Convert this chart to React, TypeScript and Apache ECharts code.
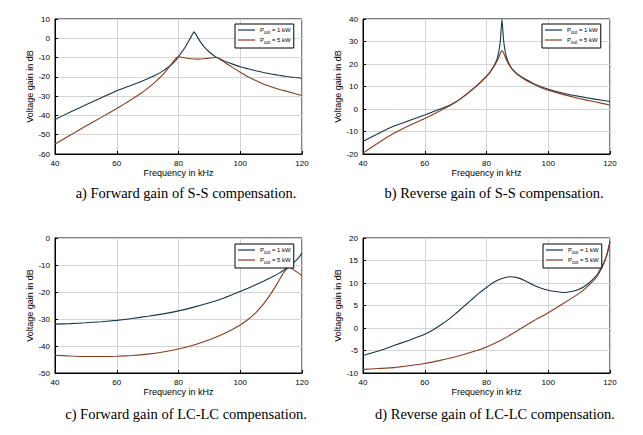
import React, { useEffect, useRef } from "react";
import * as echarts from "echarts";

// ---- data (frequency in kHz, gain in dB) ----
const xA = [40, 45, 50, 55, 60, 65, 70, 72.5, 75, 77.5, 79, 80, 81, 82, 83, 84, 84.5, 85, 85.5, 86, 87, 88, 89, 90, 91, 92, 93, 95, 97.5, 100, 102.5, 105, 107.5, 110, 112.5, 115, 117.5, 120];
const a1kW = [-42.1, -38.2, -34.5, -30.8, -27.2, -24.2, -21, -19.2, -16.9, -14, -11.6, -9.5, -7.3, -5, -2.3, 0.6, 2, 3.3, 2.4, 1, -1.6, -3.8, -5.6, -7.1, -8.4, -9.5, -10.3, -11.9, -13.4, -14.8, -15.8, -16.8, -17.7, -18.5, -19.2, -19.8, -20.3, -20.7];
const xA5 = [40, 45, 50, 55, 60, 62.5, 65, 67.5, 70, 72.5, 75, 76, 77, 78, 79, 79.5, 80, 81, 82, 84, 86, 88, 90, 91, 92, 92.5, 93, 94, 95, 97.5, 100, 102.5, 105, 107.5, 110, 112.5, 115, 117.5, 120];
const a5kW = [-54.8, -50.2, -45.5, -41, -36.4, -34, -31.5, -28.9, -26, -22.6, -18.7, -16.9, -14.9, -12.7, -10.6, -9.8, -9.6, -9.8, -10.1, -10.6, -10.8, -10.6, -10.3, -10.1, -10, -10.1, -10.5, -11.5, -12.6, -15.1, -17.6, -19.9, -21.9, -23.7, -25.1, -26.4, -27.5, -28.6, -29.7];

const xB = [40, 45, 50, 55, 60, 65, 67.5, 70, 72.5, 75, 77.5, 80, 81, 82, 83, 83.5, 84, 84.5, 85, 85.5, 86, 86.5, 87, 88, 89, 90, 92.5, 95, 97.5, 100, 105, 110, 115, 120];
const b1kW = [-14.4, -10.9, -7.6, -5.1, -2.7, 0, 1.3, 3.1, 5.5, 8.2, 11.2, 14.6, 16.2, 18.2, 20.8, 22.6, 25.5, 30.5, 40, 31, 26, 23, 21, 18.3, 16.8, 15.6, 13.3, 11.5, 10, 8.8, 7, 5.6, 4.4, 3.3];
const xB5 = [40, 45, 50, 55, 60, 65, 67.5, 70, 72.5, 75, 77.5, 80, 81, 82, 83, 84, 84.5, 85, 85.5, 86, 86.5, 87, 88, 89, 90, 92.5, 95, 97.5, 100, 105, 110, 115, 120];
const b5kW = [-19.6, -15, -10.8, -7.3, -4.2, -0.8, 1, 3, 5.5, 8.2, 11.1, 14.4, 16, 18, 20.2, 23, 24.8, 26, 25, 23.3, 21.7, 20.4, 18.2, 16.6, 15.3, 13, 11.2, 9.6, 8.4, 6.4, 4.7, 3.2, 1.8];

const xC = [40, 45, 50, 55, 60, 65, 70, 75, 80, 85, 90, 95, 100, 102.5, 105, 107.5, 110, 112.5, 115, 116, 117, 118, 119, 120];
const c1kW = [-31.9, -31.7, -31.4, -31, -30.5, -29.8, -29, -28.1, -27, -25.6, -24, -22.1, -19.8, -18.6, -17.3, -16, -14.6, -13.1, -11.2, -10.3, -9.4, -8.4, -7.2, -5.6];
const xC5 = [40, 45, 50, 55, 60, 65, 70, 75, 80, 85, 90, 95, 100, 102.5, 105, 107.5, 110, 112, 113, 114, 115, 115.5, 116, 116.5, 117, 118, 119, 120];
const c5kW = [-43.4, -43.7, -43.9, -43.9, -43.8, -43.5, -43, -42.2, -41.1, -39.6, -37.7, -35.3, -32.2, -30.2, -27.7, -24.5, -20.5, -16.8, -14.8, -12.9, -11.5, -11, -10.9, -11.1, -11.5, -12.3, -13.1, -14];

const xD = [40, 45, 50, 55, 60, 62.5, 65, 67.5, 70, 72.5, 75, 77.5, 80, 82.5, 85, 87.5, 90, 92.5, 95, 97.5, 100, 102.5, 105, 107.5, 110, 112.5, 115, 116, 117, 118, 119, 120];
const d1kW = [-6.1, -5.1, -3.9, -2.7, -1.4, -0.5, 0.6, 1.8, 3.2, 4.7, 6.2, 7.7, 9, 10.2, 11, 11.4, 11.2, 10.5, 9.6, 8.9, 8.4, 8.1, 7.9, 8.1, 8.6, 9.6, 11.2, 12, 13.2, 14.5, 16.3, 19.1];
const xD5 = [40, 45, 50, 55, 60, 65, 70, 75, 80, 85, 90, 95, 100, 105, 110, 112.5, 115, 116, 117, 118, 119, 120];
const d5kW = [-9.2, -9, -8.8, -8.4, -7.9, -7.2, -6.4, -5.4, -4.2, -2.6, -0.6, 1.5, 3.4, 5.5, 7.7, 9.1, 10.8, 11.7, 12.9, 14.3, 16.3, 19.3];

const xTicks = { min: 40, max: 120, interval: 20 };
const yRanges = [
  { min: -60, max: 10, interval: 10 },
  { min: -20, max: 40, interval: 10 },
  { min: -50, max: 0, interval: 10 },
  { min: -10, max: 20, interval: 5 },
];
const captions = [
  "a) Forward gain of S-S compensation.",
  "b) Reverse gain of S-S compensation.",
  "c) Forward gain of LC-LC compensation.",
  "d) Reverse gain of LC-LC compensation.",
];
const seriesNames = ["1kW", "5kW"];

const COLOR_1 = "#14364a";
const COLOR_2 = "#8a3d1e";
const SANS = "Liberation Sans, Arial, sans-serif";
const SERIF = "Liberation Serif, Times New Roman, serif";

const zip = (xs: number[], ys: number[]) => xs.map((x, i) => [x, ys[i]]);

export default function App() {
  const ref = useRef<HTMLDivElement>(null);
  useEffect(() => {
    if (!ref.current) return;
    const chart = echarts.init(ref.current, undefined, { renderer: "svg" });

    const grids = [
      { left: 55, top: 19, width: 247, height: 135 },
      { left: 363, top: 19, width: 247, height: 135 },
      { left: 55, top: 238, width: 247, height: 135 },
      { left: 363, top: 238, width: 247, height: 135 },
    ];
    const legendPos = [
      { left: 235, top: 24 },
      { left: 542, top: 24 },
      { left: 235, top: 244 },
      { left: 543, top: 244 },
    ];
    const captionPos = [
      { x: 186, y: 193 },
      { x: 494, y: 193 },
      { x: 186, y: 414 },
      { x: 495, y: 414 },
    ];
    const data = [
      [zip(xA, a1kW), zip(xA5, a5kW)],
      [zip(xB, b1kW), zip(xB5, b5kW)],
      [zip(xC, c1kW), zip(xC5, c5kW)],
      [zip(xD, d1kW), zip(xD5, d5kW)],
    ];

    const axisCommon = {
      axisLine: { show: true, onZero: false, lineStyle: { color: "#000", width: 1 } },
      axisTick: { show: true, inside: true, length: 3, lineStyle: { color: "#000" } },
      splitLine: { show: true, lineStyle: { color: "#d4d4d4", width: 1 } },
      axisLabel: { color: "#000", fontSize: 8, fontFamily: SANS, margin: 5 },
      nameTextStyle: { color: "#000", fontSize: 9, fontFamily: SANS },
    };

    const xAxis = grids.map((_, i) => ({
      type: "value",
      gridIndex: i,
      ...xTicks,
      ...axisCommon,
      name: "Frequency in kHz",
      nameLocation: "middle",
      nameGap: 14,
    }));
    const yAxis = grids.map((_, i) => ({
      type: "value",
      gridIndex: i,
      ...yRanges[i],
      ...axisCommon,
      name: "Voltage gain in dB",
      nameLocation: "middle",
      nameGap: 19,
    }));

    const series: any[] = [];
    data.forEach((pair, i) => {
      pair.forEach((d, k) => {
        series.push({
          type: "line",
          name: seriesNames[k],
          xAxisIndex: i,
          yAxisIndex: i,
          data: d,
          symbol: "none",
          smooth: 0.15,
          lineStyle: { width: 1.1, color: k === 0 ? COLOR_1 : COLOR_2 },
          itemStyle: { color: k === 0 ? COLOR_1 : COLOR_2 },
          z: k === 0 ? 2 : 3,
        });
      });
    });

    const legends = legendPos.map((p) => ({
      ...p,
      orient: "vertical",
      data: seriesNames,
      icon: "rect",
      backgroundColor: "#fff",
      borderColor: "#000",
      borderWidth: 1,
      borderRadius: 0,
      padding: [3, 3, 3, 3],
      itemGap: 2,
      itemWidth: 17,
      itemHeight: 1.2,
      selectedMode: false,
      formatter: (name: string) =>
        name === "1kW" ? "{p|P}{s|out}{p| = 1 kW}" : "{p|P}{s|out}{p| = 5 kW}",
      textStyle: {
        fontFamily: SANS,
        fontSize: 6,
        color: "#000",
        rich: {
          p: { fontSize: 6, fontFamily: SANS, color: "#000" },
          s: { fontSize: 4.5, fontFamily: SANS, color: "#000", padding: [5, 0, 0, 0] },
        },
      },
    }));

    const graphic = captions.map((t, i) => ({
      type: "text",
      x: captionPos[i].x,
      y: captionPos[i].y,
      style: {
        text: t,
        fontFamily: SERIF,
        fontSize: 14.5,
        fill: "#000",
        align: "center",
        verticalAlign: "middle",
      },
    }));

    chart.setOption({
      animation: false,
      backgroundColor: "#fff",
      grid: grids.map((g) => ({ ...g, show: true, borderColor: "#000", borderWidth: 1, backgroundColor: "transparent" })),
      xAxis,
      yAxis,
      legend: legends,
      series,
      graphic,
    } as any);

    return () => chart.dispose();
  }, []);

  return (
    <div
      ref={ref}
      style={{ position: "fixed", left: 0, top: 0, width: 643, height: 435, background: "#fff" }}
    />
  );
}
